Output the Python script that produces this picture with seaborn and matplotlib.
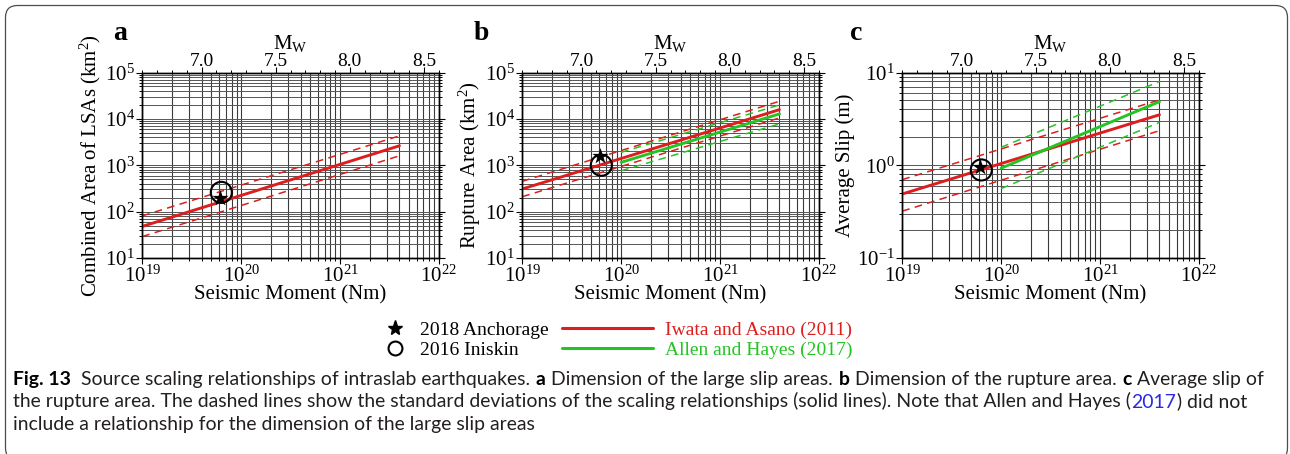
import numpy as np
import matplotlib
matplotlib.use("Agg")
import matplotlib.pyplot as plt
import seaborn as sns
from matplotlib import ticker, font_manager
from matplotlib.lines import Line2D
from matplotlib.patches import FancyBboxPatch
from matplotlib.transforms import IdentityTransform

# ---- data -------------------------------------------------------------
# Seismic-moment range (Nm) covered by each scaling relationship
ia_m0 = [1e19, 4e21]   # Iwata and Asano (2011)
ah_m0 = [1e20, 4e21]   # Allen and Hayes (2017)

# (a) combined area of the large slip areas (km^2)
lsa_ia = [48, 2630]
lsa_ia_lo = [29, 1600]
lsa_ia_hi = [81, 4300]

# (b) rupture area (km^2)
rup_ia = [308, 15800]
rup_ia_lo = [210, 10500]
rup_ia_hi = [450, 24000]
rup_ah = [1155, 12800]
rup_ah_lo = [760, 7800]
rup_ah_hi = [1900, 20000]

# (c) average slip (m)
slip_ia = [0.49, 3.5]
slip_ia_lo = [0.32, 2.36]
slip_ia_hi = [0.70, 5.07]
slip_ah = [0.93, 4.85]
slip_ah_lo = [0.56, 2.9]
slip_ah_hi = [1.56, 8.0]

# Observed events
event_names = ["2018 Anchorage", "2016 Iniskin"]
event_m0 = [6.1e19, 6.3e19]
event_lsa = [195, 260]
event_rup = [1600, 1000]
event_slip = [0.95, 0.89]

relation_names = ["Iwata and Asano (2011)", "Allen and Hayes (2017)"]
panel_letters = ["a", "b", "c"]
y_labels = ["Combined Area of LSAs (km$^2$)", "Rupture Area (km$^2$)", "Average Slip (m)"]
y_limits = [(1e1, 1e5), (1e1, 1e5), (1e-1, 1e1)]
x_limits = (1e19, 1e22)
mw_ticks = [7.0, 7.5, 8.0, 8.5]

RED = "#dc1e1e"
GREEN = "#25c425"
BLUE = "#2a2ae0"


def moment_magnitude(m0):
    return (np.log10(m0) - 9.1) / 1.5


# ---- style ------------------------------------------------------------
sns.set_style("ticks")
plt.rcParams["font.family"] = ["Liberation Serif", "DejaVu Serif"]
plt.rcParams["mathtext.fontset"] = "custom"
plt.rcParams["mathtext.rm"] = "Liberation Serif"
plt.rcParams["mathtext.it"] = "Liberation Serif:italic"
plt.rcParams["mathtext.bf"] = "Liberation Serif:bold"
plt.rcParams.update({
    "xtick.direction": "out", "ytick.direction": "out",
    "xtick.major.size": 4, "ytick.major.size": 4,
    "xtick.minor.size": 2.5, "ytick.minor.size": 2.5,
    "xtick.major.width": 0.8, "ytick.major.width": 0.8,
    "xtick.minor.width": 0.7, "ytick.minor.width": 0.7,
    "xtick.color": "black", "ytick.color": "black",
    "axes.edgecolor": "black", "axes.linewidth": 1.0,
    "text.color": "black", "axes.labelcolor": "black",
})

W, H = 1290, 454
fig = plt.figure(figsize=(W / 100, H / 100), dpi=100)
fig.patch.set_facecolor("white")

lefts = [142.3, 522.3, 902.3]
ax_w, ax_top, ax_bot = 296.5, 72.5, 258.0
letter_x = [113, 474, 850]


def draw_relation(ax, m0, mid, lo, hi, color):
    for band in (lo, hi):
        sns.lineplot(x=m0, y=band, ax=ax, color=color, linewidth=1.1,
                     linestyle=(0, (5, 3.5)), zorder=3)
    sns.lineplot(x=m0, y=mid, ax=ax, color=color, linewidth=2.1, zorder=4)


panel_values = [
    [(lsa_ia, lsa_ia_lo, lsa_ia_hi)],
    [(rup_ia, rup_ia_lo, rup_ia_hi), (rup_ah, rup_ah_lo, rup_ah_hi)],
    [(slip_ia, slip_ia_lo, slip_ia_hi), (slip_ah, slip_ah_lo, slip_ah_hi)],
]
event_values = [event_lsa, event_rup, event_slip]

for i in range(3):
    ax = fig.add_axes([lefts[i] / W, (H - ax_bot) / H, ax_w / W, (ax_bot - ax_top) / H])
    ax.set_xscale("log")
    ax.set_yscale("log")
    ax.set_xlim(*x_limits)
    ax.set_ylim(*y_limits[i])

    for axis in (ax.xaxis, ax.yaxis):
        axis.set_major_locator(ticker.LogLocator(base=10, numticks=12))
        axis.set_minor_locator(ticker.LogLocator(base=10, subs=np.arange(2, 10), numticks=30))
        axis.set_minor_formatter(ticker.NullFormatter())
    ax.grid(True, which="both", axis="x", color="#3a3a3a", linewidth=0.8)
    ax.grid(True, which="both", axis="y", color="#555555", linewidth=0.7)
    ax.set_axisbelow(True)

    curves = panel_values[i]
    draw_relation(ax, ia_m0, *curves[0], RED)
    if len(curves) > 1:
        draw_relation(ax, ah_m0, *curves[1], GREEN)

    ev = event_values[i]
    sns.scatterplot(x=[event_m0[0]], y=[ev[0]], ax=ax, marker="*", s=150,
                    color="black", linewidth=0, zorder=6)
    sns.scatterplot(x=[event_m0[1]], y=[ev[1]], ax=ax, marker="o", s=230,
                    facecolor="none", edgecolor="black", linewidth=1.5, zorder=7)

    ax.tick_params(axis="both", which="both", labelsize=15, pad=1.5)
    ax.tick_params(axis="y", which="both", right=True)
    ax.tick_params(axis="x", which="both", top=False)
    ax.set_xlabel("Seismic Moment (Nm)", fontsize=15, labelpad=-1)
    ax.set_ylabel(y_labels[i], fontsize=15, labelpad=1.5)

    top = ax.twiny()
    top.set_xlim(moment_magnitude(x_limits[0]), moment_magnitude(x_limits[1]))
    top.set_xticks(mw_ticks)
    top.set_xticklabels([f"{t:.1f}" for t in mw_ticks])
    top.xaxis.set_minor_locator(ticker.MultipleLocator(0.1))
    top.tick_params(axis="x", which="both", labelsize=14, pad=-2)
    top.set_xlabel(r"M$_{\mathrm{W}}$", fontsize=15, labelpad=3)

    fig.text(letter_x[i] / W, (H - 40) / H, panel_letters[i], fontsize=20,
             fontweight="bold", ha="left", va="baseline")

# ---- legend -----------------------------------------------------------
leg_y = (H - 340) / H
marker_handles = [
    Line2D([], [], marker="*", ls="none", color="black", ms=11),
    Line2D([], [], marker="o", ls="none", mfc="none", mec="black", mew=1.5, ms=10),
]
fig.legend(marker_handles, event_names, loc="center left",
           bbox_to_anchor=(385 / W, leg_y), frameon=False, fontsize=14,
           handlelength=1.0, handletextpad=0.8, labelspacing=0.1,
           borderpad=0, borderaxespad=0)
line_handles = [Line2D([], [], color=RED, lw=2.2), Line2D([], [], color=GREEN, lw=2.2)]
fig.legend(line_handles, relation_names, loc="center left",
           bbox_to_anchor=(562 / W, leg_y), frameon=False, fontsize=14,
           handlelength=4.7, handletextpad=0.62, labelspacing=0.1,
           borderpad=0, borderaxespad=0, labelcolor=[RED, GREEN])

# ---- caption ----------------------------------------------------------
names = {f.name for f in font_manager.fontManager.ttflist}
cap_family = "DejaVu Sans"
for cand in ["Liberation Sans Narrow", "Lato", "Open Sans"]:
    if cand in names:
        cap_family = cand
        break
renderer = fig.canvas.get_renderer()
TXT = "#231f20"
GAP = None

cap_lines = [
    [("Fig. 13", "bold", "black"), GAP, GAP,
     ("Source scaling relationships of intraslab earthquakes.", "normal", TXT), GAP,
     ("a", "bold", "black"), GAP,
     ("Dimension of the large slip areas.", "normal", TXT), GAP,
     ("b", "bold", "black"), GAP,
     ("Dimension of the rupture area.", "normal", TXT), GAP,
     ("c", "bold", "black"), GAP,
     ("Average slip of", "normal", TXT)],
    [("the rupture area. The dashed lines show the standard deviations of the scaling "
      "relationships (solid lines). Note that Allen and Hayes (", "normal", TXT),
     ("2017", "normal", BLUE), (")", "normal", TXT), GAP, ("did not", "normal", TXT)],
    [("include a relationship for the dimension of the large slip areas", "normal", TXT)],
]


def measure(s, size, weight="normal"):
    t = fig.text(0, 0, s, fontsize=size, family=cap_family, fontweight=weight)
    w = t.get_window_extent(renderer).width
    t.remove()
    return w


def space_width(size):
    return measure("a a", size) - measure("aa", size)


def draw_line(runs, x0, y_img, size):
    x = x0
    gap = space_width(size)
    for run in runs:
        if run is None:
            x += gap
            continue
        s, weight, color = run
        t = fig.text(x / W, (H - y_img) / H, s, fontsize=size, family=cap_family,
                     fontweight=weight, color=color, ha="left", va="baseline")
        x = t.get_window_extent(renderer).x1 + 0.5
    return x


# size the caption so that its second line spans the text block
base = 10.0
w2 = sum(space_width(base) if r is None else measure(r[0], base, r[1]) for r in cap_lines[1])
cap_size = base * (1247 - 13) / w2
for runs, y in zip(cap_lines, [385, 407.5, 430]):
    draw_line(runs, 13, y, cap_size)

frame = FancyBboxPatch((5.5, -6), 1282, 454.5, boxstyle="round,pad=0,rounding_size=12",
                       transform=IdentityTransform(), facecolor="none",
                       edgecolor="#4d4d4d", linewidth=0.9)
fig.add_artist(frame)

fig.savefig("out.png", dpi=100, facecolor="white")
